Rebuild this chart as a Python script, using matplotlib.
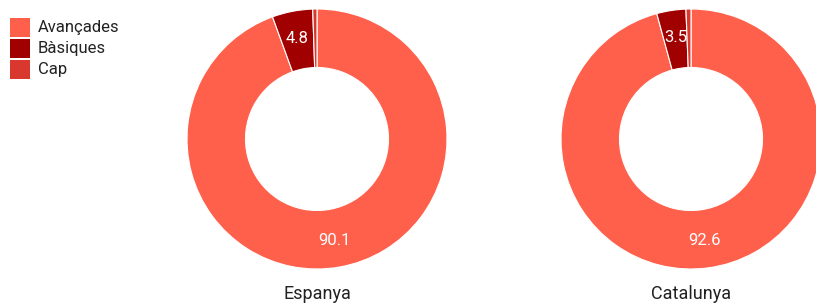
import matplotlib
matplotlib.use("Agg")
import matplotlib.pyplot as plt
import numpy as np

plt.rcParams['font.family'] = ['Roboto', 'DejaVu Sans']

categories = ["Avançades", "Bàsiques", "Cap"]
regions = ["Espanya", "Catalunya"]
espanya = [90.1, 4.8, 0.5]
catalunya = [92.6, 3.5, 0.6]
series = [espanya, catalunya]
colors = ["#ff604b", "#a00000", "#d8382d"]

W, H = 816, 306
fig = plt.figure(figsize=(W / 100, H / 100), dpi=100)

centers = [317, 691]
cy = 139
R = 130

for cx, name, vals in zip(centers, regions, series):
    ax = fig.add_axes([(cx - R) / W, (H - cy - R) / H, 2 * R / W, 2 * R / H])
    wedges, _ = ax.pie(vals, colors=colors, startangle=90, counterclock=False,
                       radius=1.0, wedgeprops=dict(width=0.45, edgecolor='white', linewidth=0.8))
    total = sum(vals)
    for w, v in zip(wedges, vals):
        frac = v / total
        if frac < 0.02:
            continue
        ang = np.deg2rad((w.theta1 + w.theta2) / 2)
        r = 0.79
        ax.text(r * np.cos(ang), r * np.sin(ang), f"{v:.1f}", ha='center', va='center',
                color='white', fontsize=12)
    ax.set_xlim(-1, 1)
    ax.set_ylim(-1, 1)
    ax.set_aspect('equal')
    ax.axis('off')
    fig.text(cx / W, 1 - 294 / H, name, ha='center', va='center', fontsize=13, color='#222222')

# legend
for i, (cat, col) in enumerate(zip(categories, colors)):
    y = 27.5 + i * 21
    fig.patches.append(plt.Rectangle((10 / W, 1 - (y + 9.5) / H), 20 / W, 19 / H,
                                     transform=fig.transFigure, color=col, lw=0))
    fig.text(38 / W, 1 - y / H, cat, ha='left', va='center', fontsize=12, color='#222222')

fig.savefig("out.png", dpi=100)
